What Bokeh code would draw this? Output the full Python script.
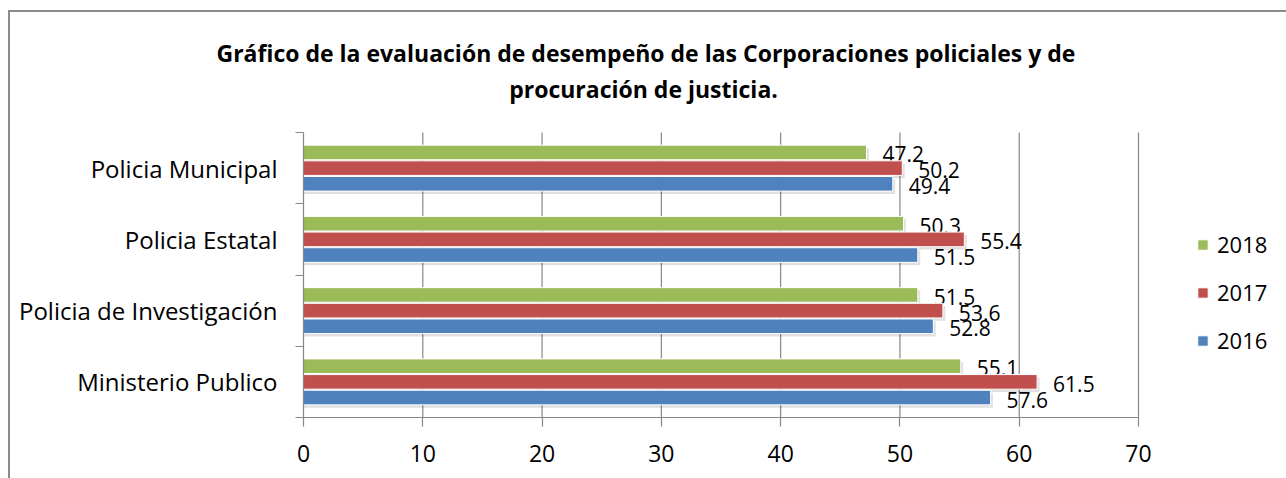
from bokeh.plotting import figure
from bokeh.models import Range1d, FixedTicker, Legend, LegendItem, Label, Title, ColumnDataSource
from bokeh.core.properties import value
from bokeh.embed import file_html
from bokeh.resources import INLINE

categories = ["Ministerio Publico", "Policia de Investigación", "Policia Estatal", "Policia Municipal"]
years = ["2016", "2017", "2018"]
v2016 = [57.6, 52.8, 51.5, 49.4]
v2017 = [61.5, 53.6, 55.4, 50.2]
v2018 = [55.1, 51.5, 50.3, 47.2]
colors = {"2016": "#4F81BD", "2017": "#C0504D", "2018": "#9BBB59"}
x_ticks = [0, 10, 20, 30, 40, 50, 60, 70]
title_lines = ["Gráfico de la evaluación de desempeño de las Corporaciones policiales y de",
               "procuración de justicia."]

FONT = "Open Sans"
GRID = "#878787"
# canvas (inside a 2px border) and frame geometry in pixels
W, H = 1276, 466
FL = 293                  # left border (category labels)
FT = 58                   # top border (first title line)
FB = 61                   # bottom border (x tick labels)
FW = W - FL               # frame runs to the right edge (room for legend)
FH = H - FB - FT          # frame includes room for the second title line
AX_W, AX_H = 835, 285     # pixel size of the actual value/category area
X_MAX, N = 70, len(categories)
x_end = X_MAX * FW / AX_W
y_end = -0.5 + N * FH / AX_H

p = figure(frame_width=FW, frame_height=FH, output_backend="svg", toolbar_location=None,
           x_range=Range1d(0, x_end), y_range=Range1d(-0.5, y_end),
           min_border_left=FL, min_border_top=FT, min_border_right=0,
           min_border_bottom=FB, title=None)
p.outline_line_color = None
p.background_fill_color = "white"
p.styles = {"border-left": "2px solid #8c8c8c", "border-top": "2px solid #8c8c8c",
            "margin-left": "8px", "margin-top": "10px"}
p.xgrid.grid_line_color = None
p.ygrid.grid_line_color = None

# x axis
p.xaxis.ticker = FixedTicker(ticks=x_ticks)
p.xaxis.bounds = (0, X_MAX)
p.xaxis.axis_line_color = GRID
p.xaxis.axis_line_width = 1.2
p.xaxis.major_tick_line_color = GRID
p.xaxis.major_tick_line_width = 1.2
p.xaxis.major_tick_out = 9
p.xaxis.major_tick_in = 0
p.xaxis.minor_tick_line_color = None
p.xaxis.major_label_text_font = FONT
p.xaxis.major_label_text_font_size = "23px"
p.xaxis.major_label_text_color = "black"
p.xaxis.major_label_standoff = 18

# y axis with category names at centres, ticks at boundaries
yc = list(range(N))
p.yaxis.ticker = FixedTicker(ticks=yc, minor_ticks=[i - 0.5 for i in range(N + 1)])
p.yaxis.bounds = (-0.5, N - 0.5)
p.yaxis.major_label_overrides = {i: c for i, c in zip(yc, categories)}
p.yaxis.axis_line_color = GRID
p.yaxis.axis_line_width = 1.2
p.yaxis.major_tick_line_color = None
p.yaxis.major_tick_out = 0
p.yaxis.major_tick_in = 0
p.yaxis.minor_tick_line_color = GRID
p.yaxis.minor_tick_line_width = 1.2
p.yaxis.minor_tick_out = 8
p.yaxis.minor_tick_in = 0
p.yaxis.major_label_text_font = FONT
p.yaxis.major_label_text_font_size = "24px"
p.yaxis.major_label_text_color = "black"
p.yaxis.major_label_standoff = 18

# vertical grid lines at the x ticks, over the category area only
gx = x_ticks[1:]
p.segment(x0=gx, x1=gx, y0=[-0.5] * len(gx), y1=[N - 0.5] * len(gx),
          line_color=GRID, line_width=1.2)

offsets = {"2018": 0.22, "2017": 0.0, "2016": -0.22}
vals = {"2016": v2016, "2017": v2017, "2018": v2018}
BH = 0.205
renderers = {}
for yr in ["2018", "2017", "2016"]:
    ys = [i + offsets[yr] for i in yc]
    src = ColumnDataSource(dict(y=ys, v=vals[yr], t=[f"{x:.1f}" for x in vals[yr]],
                                ys=[y - 0.04 for y in ys], vs=[x + 0.2 for x in vals[yr]]))
    p.hbar(y="ys", right="vs", left=0, height=BH, source=src,
           fill_color="black", fill_alpha=0.12, line_color=None)
    renderers[yr] = p.hbar(y="y", right="v", left=0, height=BH, source=src,
                           fill_color=colors[yr], line_color="white", line_width=1)
    p.text(x="v", y="y", text="t", source=src, x_offset=16, y_offset=2,
           text_font=value(FONT), text_font_size="21px", text_color="black",
           text_align="left", text_baseline="middle")

legend = Legend(items=[LegendItem(label=yr, renderers=[renderers[yr]]) for yr in ["2018", "2017", "2016"]],
                location=(893, 62), orientation="vertical")
legend.background_fill_alpha = 0
legend.border_line_color = None
legend.padding = 0
legend.margin = 0
legend.glyph_width = 13
legend.glyph_height = 13
legend.label_standoff = 8
legend.spacing = 18
legend.label_text_font = FONT
legend.label_text_font_size = "22px"
legend.label_text_color = "black"
p.add_layout(legend, "center")

# first title line above the frame, second one inside it
p.add_layout(Title(text=title_lines[0], align="left", offset=-87, standoff=4,
                   text_font=FONT, text_font_size="23px", text_font_style="bold",
                   text_color="black"), "above")
p.add_layout(Label(x=340, y=329, x_units="screen", y_units="screen", text=title_lines[1],
                   text_font=FONT, text_font_size="23px", text_font_style="bold",
                   text_color="black", text_align="center", text_baseline="middle"))

open("out.html", "w").write(file_html(p, INLINE))
